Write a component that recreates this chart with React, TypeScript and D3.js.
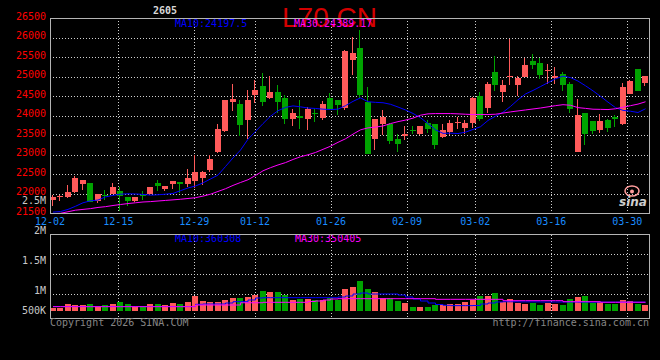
import React from 'react';
import * as d3 from 'd3';

// ---------- data ----------
const titleText = 'L70.CN';
const contractText = '2605';
const priceMaLabels = ['MA10:24197.5', 'MA30:24389.17'];
const volMaLabels = ['MA10:360308', 'MA30:350405'];
const copyrightText = 'Copyright 2026 SINA.COM';
const urlText = 'http://finance.sina.com.cn';

const tickIndex = [0, 9, 19, 27, 37, 47, 56, 66, 76];
const tickLabels = ['12-02', '12-15', '12-29', '01-12', '01-26', '02-09', '03-02', '03-16', '03-30'];

const priceTicks = [26500, 26000, 25500, 25000, 24500, 24000, 23500, 23000, 22500, 22000, 21500];
const volTickValues = [2500000, 2000000, 1500000, 1000000, 500000];
const volTickLabels = ['2.5M', '2M', '1.5M', '1M', '500K'];

const opens = [
  21830, 21930, 21916, 22044, 22241, 22270, 21813, 21975, 22001, 22070,
  21915, 21812, 21980, 21990, 22285, 22115, 22260, 22290, 22260, 22327,
  22413, 22618, 23072, 23612, 24357, 24297, 23886, 24528, 24760, 24469,
  24614, 24469, 23929, 24000, 23929, 24075, 23946, 24469, 24400, 24212,
  25428, 25736, 24357, 23398, 23800, 23800, 23398, 23483, 23629, 23526,
  23820, 23800, 23457, 23586, 23818, 23697, 23818, 24503, 24203, 25120,
  24614, 25000, 24786, 24999, 25402, 25351, 25145, 24982, 25068, 24811,
  23072, 24083, 23860, 23629, 23886, 23972, 23800, 24554, 25197, 24846,
];
const highs = [
  21960, 21970, 22215, 22447, 22344, 22270, 21990, 22090, 22275, 22170,
  21915, 21930, 22070, 22180, 22345, 22210, 22330, 22300, 22645, 22986,
  22575, 22986, 23783, 24417, 24811, 24417, 24657, 24914, 25085, 25017,
  24785, 24529, 24169, 24400, 24229, 24186, 24374, 24572, 24400, 25685,
  26028, 26199, 24743, 23929, 24143, 23818, 23543, 23732, 23732, 23740,
  23880, 23800, 23783, 23903, 23972, 23903, 24486, 24606, 24871, 25531,
  24914, 25968, 25025, 25471, 25582, 25488, 25325, 25240, 25111, 24871,
  24426, 24083, 23860, 24040, 23929, 24015, 24846, 24914, 25197, 25017,
];
const lows = [
  21700, 21820, 21898, 22018, 22087, 21780, 21760, 21850, 22001, 21555,
  21700, 21800, 21840, 21960, 22075, 22070, 22130, 22030, 22173, 22156,
  22215, 22558, 23055, 23586, 24126, 23475, 23398, 24340, 24246, 24426,
  24074, 23800, 23732, 23672, 23630, 23843, 23900, 24160, 24015, 24143,
  25043, 24469, 23012, 23115, 23500, 23270, 23072, 23389, 23526, 23500,
  23560, 23140, 23440, 23500, 23672, 23543, 23689, 23869, 24074, 24640,
  24357, 24786, 24511, 24999, 25188, 24940, 24828, 24828, 24640, 24074,
  23072, 23244, 23526, 23569, 23586, 23715, 23775, 24554, 24631, 24760,
];
const closes = [
  21915, 21950, 22035, 22404, 22344, 21800, 21984, 21955, 22173, 21935,
  21815, 21915, 21960, 22170, 22195, 22200, 22320, 22250, 22410, 22558,
  22558, 22901, 23655, 24400, 24426, 23757, 24400, 24657, 24357, 24606,
  24357, 23912, 24083, 23955, 24186, 24040, 24297, 24186, 24271, 25668,
  25608, 24529, 23012, 23929, 23972, 23355, 23286, 23526, 23603, 23732,
  23670, 23244, 23629, 23826, 23843, 23826, 24469, 23929, 24803, 24786,
  24786, 25025, 24957, 25299, 25299, 25042, 25171, 25017, 24786, 24169,
  24015, 23526, 23603, 23860, 23697, 23929, 24734, 24888, 24631, 25017,
];
const volumes = [
  133000, 133000, 280000, 240000, 240000, 280000, 200000, 240000, 280000, 373000,
  280000, 200000, 200000, 280000, 280000, 240000, 333000, 280000, 373000, 613000,
  400000, 373000, 347000, 440000, 533000, 533000, 573000, 640000, 800000, 760000,
  760000, 640000, 440000, 480000, 480000, 440000, 440000, 507000, 440000, 880000,
  960000, 1200000, 880000, 760000, 507000, 507000, 400000, 333000, 160000, 160000,
  160000, 240000, 240000, 280000, 280000, 373000, 440000, 613000, 613000, 733000,
  373000, 480000, 333000, 280000, 307000, 240000, 333000, 280000, 240000, 480000,
  560000, 613000, 307000, 347000, 280000, 280000, 440000, 400000, 280000, 240000,
];
const ma10 = [
  21530, 21545, 21600, 21680, 21770, 21820, 21840, 21920, 21960, 21990,
  22000, 21995, 21985, 21965, 21975, 21990, 22010, 22080, 22150, 22200,
  22280, 22380, 22480, 22700, 22920, 23120, 23400, 23600, 23800, 23990,
  24130, 24215, 24254, 24230, 24200, 24188, 24170, 24160, 24170, 24260,
  24370, 24460, 24360, 24345, 24335, 24295, 24225, 24150, 24060, 23950,
  23800, 23640, 23550, 23555, 23545, 23580, 23650, 23720, 23880, 23990,
  24090, 24240, 24410, 24560, 24650, 24750, 24850, 24950, 25017, 24980,
  24890, 24770, 24640, 24500, 24350, 24210, 24140, 24117, 24085, 24180,
];
const ma30 = [
  21490, 21500, 21540, 21580, 21600, 21620, 21650, 21670, 21700, 21725,
  21750, 21770, 21790, 21800, 21815, 21830, 21845, 21860, 21880, 21900,
  21940, 21990, 22060, 22130, 22215, 22290, 22360, 22470, 22590, 22670,
  22740, 22800, 22880, 22950, 23000, 23060, 23140, 23220, 23320, 23410,
  23530, 23640, 23690, 23710, 23740, 23800, 23850, 23890, 23940, 24015,
  24050, 24057, 24057, 24057, 24050, 24040, 24032, 24032, 24032, 24040,
  24070, 24100, 24125, 24150, 24175, 24200, 24230, 24260, 24285, 24270,
  24210, 24190, 24169, 24165, 24160, 24180, 24220, 24260, 24300, 24360,
];
const volMa10 = [
  180000, 180000, 180000, 180000, 180000, 180000, 180000, 180000, 180000, 180000,
  180000, 180000, 180000, 180000, 180000, 180000, 180000, 180000, 180000, 268000,
  280000, 280000, 280000, 320000, 372000, 372000, 440000, 520000, 533000, 533000,
  533000, 533000, 533000, 533000, 533000, 533000, 533000, 533000, 560000, 600000,
  680000, 720000, 680000, 680000, 680000, 680000, 640000, 560000, 480000, 400000,
  320000, 260000, 230000, 215000, 215000, 215000, 220000, 280000, 320000, 360000,
  370000, 370000, 365000, 365000, 365000, 360000, 360000, 360000, 360000, 360000,
  355000, 355000, 355000, 355000, 355000, 355000, 355000, 355000, 355000, 360000,
];
const volMa30 = [
  173000, 173000, 173000, 173000, 173000, 173000, 173000, 173000, 173000, 173000,
  173000, 173000, 173000, 173000, 173000, 173000, 173000, 173000, 173000, 240000,
  240000, 240000, 240000, 240000, 240000, 330000, 330000, 330000, 347000, 347000,
  347000, 347000, 347000, 347000, 380000, 400000, 440000, 480000, 493000, 493000,
  493000, 493000, 493000, 493000, 493000, 493000, 493000, 493000, 493000, 493000,
  493000, 467000, 467000, 467000, 467000, 467000, 467000, 467000, 467000, 467000,
  413000, 413000, 413000, 413000, 413000, 413000, 413000, 413000, 373000, 373000,
  373000, 373000, 373000, 350000, 350000, 350000, 350000, 350000, 350000, 350000,
];

// ---------- layout ----------
const W = 660;
const H = 360;
const L = 50;
const R = 650;
const P_TOP = 18.3;
const P_BOT = 213.3;
const V_TOP = 234.5;
const V_BOT = 318.5;
const V_BASE = 311;

const RED = '#ff5a5a';
const GREEN = '#00a300';
const BORDER = '#b4b4b4';
const DOT = '#d0d0d0';
const MONO = '"DejaVu Sans Mono", "Liberation Mono", monospace';

export default function App() {
  const n = closes.length;
  const xBand = d3.scaleBand<number>().domain(d3.range(n)).range([L, R]);
  const xGrid = d3.scaleLinear().domain([0, n - 1]).range([L, R]);
  const yP = d3.scaleLinear().domain([21500, 26500]).range([P_BOT, P_TOP]);
  const yV = d3.scaleLinear().domain([0, 1000000]).range([V_BASE, 286]);
  const yVLabel = d3.scaleLinear().domain([500000, 1000000, 2500000]).range([310.3, 290.3, 200]);

  const bx = (i: number) => Math.floor(xBand(i) as number);
  const cx = (i: number) => (xBand(i) as number) + 3;

  const priceLine = (arr: number[]) =>
    d3.line<number>().x((_, i) => cx(i)).y((v) => yP(v))(arr) || '';
  const volLine = (arr: number[]) =>
    d3.line<number>().x((_, i) => cx(i)).y((v) => yV(v)).curve(d3.curveStepAfter)(arr) || '';

  const gridX = tickIndex.map((i) => Math.round(xGrid(i)) + 0.5);
  const innerPriceTicks = priceTicks.filter((v) => v !== 26500 && v !== 21500);
  const volGridY = d3.range(1, 4).map((k) => V_TOP + k * 20);

  return (
    <div style={{ position: 'fixed', left: 0, top: 0, width: W, height: H }}>
      <svg width={W} height={H} style={{ display: 'block' }}>
        <defs>
          <clipPath id="pclip">
            <rect x={L} y={P_TOP} width={R - L} height={P_BOT - P_TOP} />
          </clipPath>
          <clipPath id="vclip">
            <rect x={L} y={V_TOP} width={R - L} height={V_BOT - V_TOP} />
          </clipPath>
        </defs>
        <rect x={0} y={0} width={W} height={H} fill="#000" />

        {/* grid: price panel */}
        <g stroke={DOT} strokeWidth={1} strokeDasharray="1 2" shapeRendering="crispEdges">
          {innerPriceTicks.map((v) => (
            <line key={v} x1={L} x2={R} y1={Math.round(yP(v)) + 0.5} y2={Math.round(yP(v)) + 0.5} />
          ))}
          {gridX.map((x, k) => (
            <line key={'pv' + k} x1={x} x2={x} y1={P_TOP} y2={P_BOT} />
          ))}
          {volGridY.map((y) => (
            <line key={'vh' + y} x1={L} x2={R} y1={y} y2={y} />
          ))}
          {gridX.map((x, k) => (
            <line key={'vv' + k} x1={x} x2={x} y1={V_TOP} y2={V_BOT} />
          ))}
        </g>

        {/* sina logo */}
        <g>
          <ellipse cx={632} cy={191} rx={7} ry={5} fill="none" stroke="#ff9c9c" strokeWidth={1.5} />
          <circle cx={632} cy={191.5} r={2} fill="#ff9c9c" />
          <text x={619} y={206} fontFamily="'DejaVu Sans', sans-serif" fontStyle="italic" fontWeight="bold" fontSize={12} fill="#cfcfcf">
            sina
          </text>
        </g>

        {/* title & labels */}
        <text x={282} y={26.5} fontFamily="'Liberation Sans', Arial, sans-serif" fontSize={28} fill="#d40000">
          {titleText}
        </text>
        <text x={153} y={14} fontFamily={MONO} fontSize={10} fontWeight="bold" fill="#d8d8d8">
          {contractText}
        </text>
        <text x={175} y={26.5} fontFamily={MONO} fontSize={10} fill="#0000ff">{priceMaLabels[0]}</text>
        <text x={294} y={26.5} fontFamily={MONO} fontSize={10} fill="#ff00ff">{priceMaLabels[1]}</text>

        {/* candles */}
        <g clipPath="url(#pclip)" shapeRendering="crispEdges">
          {closes.map((c, i) => {
            const o = opens[i];
            const up = c >= o;
            const col = up ? RED : GREEN;
            const top = Math.round(yP(Math.max(o, c)));
            const bot = Math.round(yP(Math.min(o, c)));
            const x = bx(i);
            return (
              <g key={i}>
                <rect x={x + 2} y={Math.round(yP(highs[i]))} width={1} height={Math.max(1, Math.round(yP(lows[i])) - Math.round(yP(highs[i])))} fill={col} />
                <rect x={x} y={top} width={6} height={Math.max(1, bot - top)} fill={col} />
              </g>
            );
          })}
        </g>
        <g clipPath="url(#pclip)" fill="none" strokeWidth={1}>
          <path d={priceLine(ma10)} stroke="#0000ff" />
          <path d={priceLine(ma30)} stroke="#ff00ff" />
        </g>

        {/* volume bars */}
        <g clipPath="url(#vclip)" shapeRendering="crispEdges">
          {volumes.map((v, i) => {
            const col = closes[i] >= opens[i] ? RED : GREEN;
            const top = Math.round(yV(v));
            return <rect key={i} x={bx(i)} y={top} width={6} height={V_BASE - top} fill={col} />;
          })}
        </g>
        <g clipPath="url(#vclip)" fill="none" strokeWidth={1}>
          <path d={volLine(volMa10)} stroke="#0000ff" />
          <path d={volLine(volMa30)} stroke="#ff00ff" />
        </g>
        <text x={175} y={241.5} fontFamily={MONO} fontSize={10} fill="#0000ff">{volMaLabels[0]}</text>
        <text x={295} y={241.5} fontFamily={MONO} fontSize={10} fill="#ff00ff">{volMaLabels[1]}</text>

        {/* borders */}
        <g stroke={BORDER} strokeWidth={1} fill="none" shapeRendering="crispEdges">
          <rect x={L + 0.5} y={Math.round(P_TOP) + 0.5} width={R - L - 1} height={Math.round(P_BOT) - Math.round(P_TOP)} />
          <rect x={L + 0.5} y={V_TOP} width={R - L - 1} height={V_BOT - V_TOP} />
        </g>

        {/* price axis labels */}
        {priceTicks.map((v) => (
          <text key={v} x={46} y={yP(v) + 1.5} textAnchor="end" fontFamily={MONO} fontSize={10} fill="#ff0000">
            {v}
          </text>
        ))}
        {/* volume axis labels */}
        {volTickValues.map((v, k) => (
          <text key={v} x={46} y={yVLabel(v) + 3.5} textAnchor="end" fontFamily={MONO} fontSize={10} fill="#c8c8c8">
            {volTickLabels[k]}
          </text>
        ))}
        {/* date labels */}
        {tickIndex.map((i, k) => (
          <text key={i} x={xGrid(i)} y={225.2} textAnchor="middle" fontFamily={MONO} fontSize={10} fill="#1a8cff">
            {tickLabels[k]}
          </text>
        ))}

        <text x={50} y={325.5} fontFamily={MONO} fontSize={10} fill="#858585">{copyrightText}</text>
        <text x={649} y={325.5} textAnchor="end" fontFamily={MONO} fontSize={10} fill="#858585">{urlText}</text>
      </svg>
    </div>
  );
}
